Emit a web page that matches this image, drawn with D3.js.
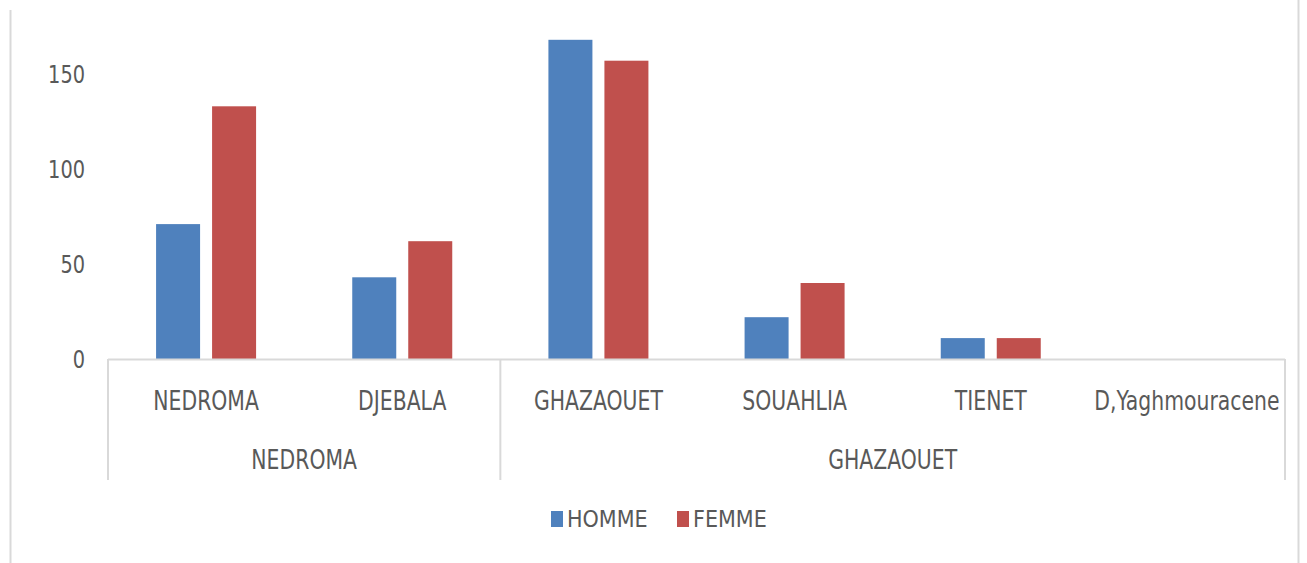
<!DOCTYPE html>
<html><head><meta charset="utf-8">
<script src="https://cdn.jsdelivr.net/npm/d3@7"></script>
<style>body{margin:0;background:#fff}svg{display:block}</style>
</head><body><svg id="c" width="1307" height="563"></svg>
<script>
const categories = ["NEDROMA","DJEBALA","GHAZAOUET","SOUAHLIA","TIENET","D,Yaghmouracene"];
const groups = [{name:"NEDROMA", from:0, to:2},{name:"GHAZAOUET", from:2, to:6}];
const seriesNames = ["HOMME","FEMME"];
const homme = [71, 43, 168, 22, 11, 0];
const femme = [133, 62, 157, 40, 11, 0];
const yTicks = [0, 50, 100, 150];
const colors = ["#4F81BD","#C0504D"];

const font = "'DejaVu Sans Condensed','Liberation Sans Narrow',sans-serif";
const txt = "#595959", grid = "#D9D9D9";
const svg = d3.select("#c");
const L = 108, R = 1285, Y0 = 359;

function label(g, x, y, anchor, size, sx, text){
  return g.append("text").attr("transform",`translate(${x},${y}) scale(${sx},1)`)
    .attr("text-anchor",anchor).attr("font-family",font).attr("font-size",size)
    .attr("fill",txt).text(text);
}

// outer frame lines
svg.append("line").attr("x1",10.5).attr("x2",10.5).attr("y1",10).attr("y2",563).attr("stroke",grid).attr("stroke-width",2);
svg.append("line").attr("x1",1298.5).attr("x2",1298.5).attr("y1",0).attr("y2",563).attr("stroke",grid).attr("stroke-width",2);

const x = d3.scaleBand().domain(categories).range([L,R]).padding(0);
const bw = x.bandwidth();
const x1 = d3.scaleBand().domain(seriesNames).range([(bw-100)/2,(bw+100)/2]).paddingInner(12/56).paddingOuter(0);
const y = d3.scaleLinear().domain([0,180]).range([Y0, Y0-180*1.9]);

const data = [homme, femme];
seriesNames.forEach((s,si)=>{
  svg.append("g").selectAll("rect").data(categories).join("rect")
    .attr("x", c=>x(c)+x1(s)).attr("width", x1.bandwidth())
    .attr("y", (c,i)=>y(data[si][i])).attr("height",(c,i)=>y(0)-y(data[si][i]))
    .attr("fill", colors[si]);
});

// y axis labels
const ya = svg.append("g");
yTicks.forEach(t=>label(ya, 85, y(t)+9, "end", 25, 0.86, t));

// x axis line and separators
svg.append("line").attr("x1",L).attr("x2",R).attr("y1",Y0+0.5).attr("y2",Y0+0.5).attr("stroke",grid).attr("stroke-width",2);
const seps = [L, x(categories[groups[0].to]), R];
svg.append("g").selectAll("line").data(seps).join("line")
  .attr("x1",d=>d).attr("x2",d=>d).attr("y1",Y0).attr("y2",480).attr("stroke",grid).attr("stroke-width",2);

// category labels
const xa = svg.append("g");
categories.forEach(c=>label(xa, x(c)+bw/2, 410, "middle", 27, 0.84, c));

// group labels
groups.forEach(g=>{
  const gx = (x(categories[g.from]) + (g.to<categories.length? x(categories[g.to]) : R))/2;
  label(xa, gx, 469, "middle", 27, 0.84, g.name);
});

// legend
const lg = svg.append("g");
const lx = [551, 677];
seriesNames.forEach((s,i)=>{
  lg.append("rect").attr("x",lx[i]).attr("y",511).attr("width",12).attr("height",16).attr("fill",colors[i]);
  label(lg, lx[i]+16, 527, "start", 23, 1.0, s);
});
</script></body></html>
